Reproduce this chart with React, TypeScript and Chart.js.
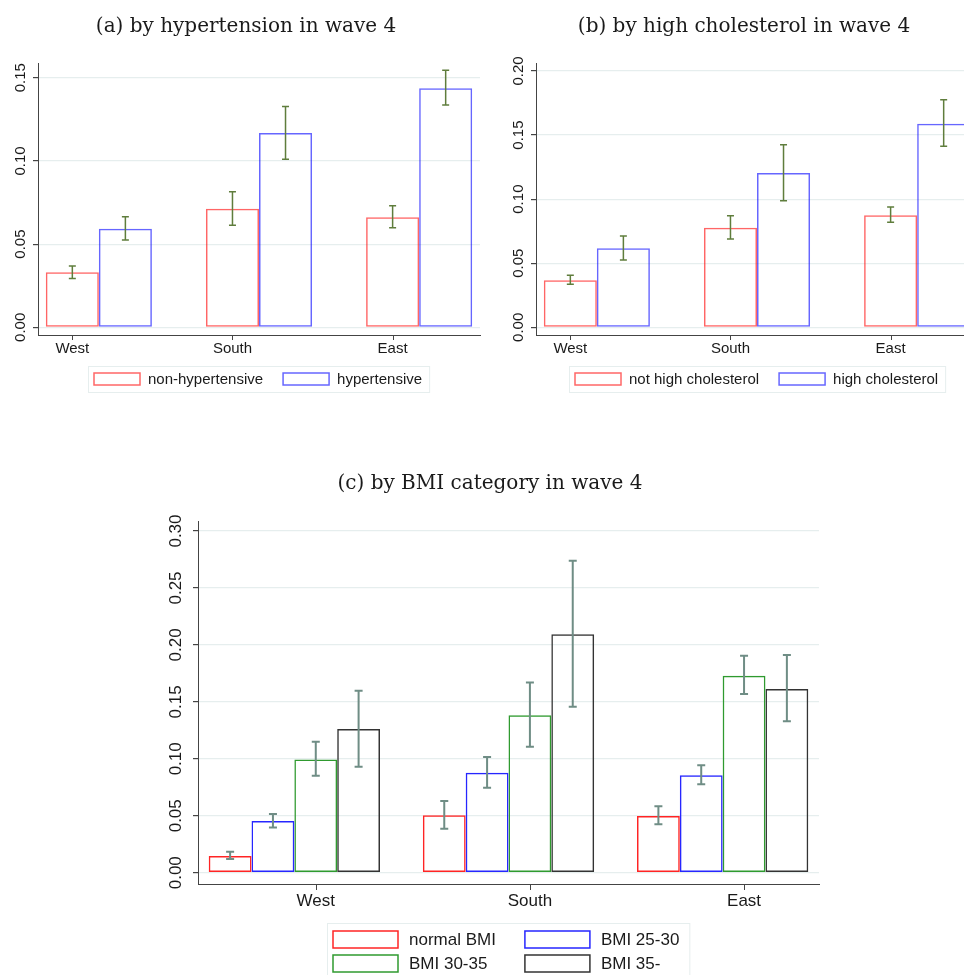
import React, { useEffect, useRef } from "react";
import { Chart, registerables } from "chart.js";

Chart.register(...registerables);

// ---------- data ----------
const REGIONS = ["West", "South", "East"];

// (a) by hypertension
const A_TITLE = "(a) by hypertension in wave 4";
const A_LABELS = ["non-hypertensive", "hypertensive"];
const A_NON = [0.0331, 0.0713, 0.0661];
const A_NON_LO = [0.0293, 0.0613, 0.0598];
const A_NON_HI = [0.0369, 0.0815, 0.0731];
const A_HYP = [0.0592, 0.1167, 0.1436];
const A_HYP_LO = [0.0524, 0.101, 0.1336];
const A_HYP_HI = [0.0664, 0.1327, 0.1545];
const A_TICKS = [0, 0.05, 0.1, 0.15];

// (b) by high cholesterol
const B_TITLE = "(b) by high cholesterol in wave 4";
const B_LABELS = ["not high cholesterol", "high cholesterol"];
const B_NOT = [0.0367, 0.0777, 0.0874];
const B_NOT_LO = [0.0336, 0.0689, 0.0819];
const B_NOT_HI = [0.0406, 0.0871, 0.0939];
const B_HIGH = [0.0616, 0.1204, 0.1589];
const B_HIGH_LO = [0.0525, 0.0988, 0.1412];
const B_HIGH_HI = [0.0712, 0.1425, 0.1776];
const B_TICKS = [0, 0.05, 0.1, 0.15, 0.2];

// (c) by BMI category
const C_TITLE = "(c) by BMI category in wave 4";
const C_LABELS = ["normal BMI", "BMI 25-30", "BMI 30-35", "BMI 35-"];
const C_NORMAL = [0.0146, 0.0504, 0.0498];
const C_NORMAL_LO = [0.012, 0.0386, 0.0425];
const C_NORMAL_HI = [0.0184, 0.063, 0.0583];
const C_B2530 = [0.0454, 0.0878, 0.0855];
const C_B2530_LO = [0.0398, 0.0747, 0.0776];
const C_B2530_HI = [0.0515, 0.1016, 0.0943];
const C_B3035 = [0.0995, 0.1382, 0.173];
const C_B3035_LO = [0.0852, 0.1107, 0.1569];
const C_B3035_HI = [0.115, 0.1669, 0.1906];
const C_B35 = [0.1262, 0.2093, 0.1613];
const C_B35_LO = [0.0931, 0.1458, 0.1329];
const C_B35_HI = [0.1598, 0.274, 0.1911];
const C_TICKS = [0, 0.05, 0.1, 0.15, 0.2, 0.25, 0.3];

// ---------- styles ----------
const SANS = '"Liberation Sans", Arial, Helvetica, sans-serif';
const SERIF = '"DejaVu Serif", serif';
const PAIR_COLORS = ["rgba(255,0,0,0.6)", "rgba(0,0,255,0.6)"];
const BMI_COLORS = ["#ff2424", "#2626ff", "#2f9a2f", "#333333"];
const AXIS = "#444444";
const GRID = "#e6eeee";
const TEXT = "#1a1a1a";

type Series = { label: string; values: number[]; lo: number[]; hi: number[]; color: string };

type Spec = {
  title: string;
  titlePadTop: number;
  titlePadBottom: number;
  series: Series[];
  ticks: number[];
  yMin: number;
  yMax: number;
  xMin: number;
  xMax: number;
  padLeft: number;
  yWidth: number;
  xHeight: number;
  padRight: number;
  catPct: number;
  barBorder: number;
  errColor: string;
  errWidth: number;
  capHalf: number;
  anchor: number;
  fontSize: number;
  yLabelOffset: number;
  xLabelOffset: number;
  tickLen: number;
  legend: {
    cols: number;
    top: number;
    boxW: number;
    boxH: number;
    gap: number;
    colGap: number;
    padL: number;
    padR: number;
    padT: number;
    rowH: number;
  };
};

function makeSeries(labels: string[], vals: number[][], lo: number[][], hi: number[][], colors: string[]): Series[] {
  return labels.map((label, i) => ({ label, values: vals[i], lo: lo[i], hi: hi[i], color: colors[i] }));
}

function buildConfig(spec: Spec): any {
  const plugin = {
    id: "statalike",
    afterDatasetsDraw(chart: any) {
      const ctx = chart.ctx;
      const ys = chart.scales.y;
      ctx.save();
      ctx.strokeStyle = spec.errColor;
      ctx.lineWidth = spec.errWidth;
      spec.series.forEach((s, di) => {
        const meta = chart.getDatasetMeta(di);
        meta.data.forEach((bar: any, j: number) => {
          const x = bar.x;
          const y1 = ys.getPixelForValue(s.lo[j]);
          const y2 = ys.getPixelForValue(s.hi[j]);
          ctx.beginPath();
          ctx.moveTo(x, y1);
          ctx.lineTo(x, y2);
          ctx.moveTo(x - spec.capHalf, y1);
          ctx.lineTo(x + spec.capHalf, y1);
          ctx.moveTo(x - spec.capHalf, y2);
          ctx.lineTo(x + spec.capHalf, y2);
          ctx.stroke();
        });
      });
      ctx.restore();
    },
    afterDraw(chart: any) {
      const ctx = chart.ctx;
      const ca = chart.chartArea;
      const ys = chart.scales.y;
      ctx.save();
      ctx.fillStyle = TEXT;
      ctx.font = `${spec.fontSize}px ${SANS}`;
      // rotated y tick labels
      ys.ticks.forEach((t: any) => {
        const py = ys.getPixelForValue(t.value);
        ctx.save();
        ctx.translate(ys.right - spec.yLabelOffset, py);
        ctx.rotate(-Math.PI / 2);
        ctx.textAlign = "center";
        ctx.textBaseline = "middle";
        ctx.fillText(String(t.label), 0, 0);
        ctx.restore();
      });
      // category ticks and labels at the anchor bar centre
      const meta = chart.getDatasetMeta(spec.anchor);
      ctx.strokeStyle = AXIS;
      ctx.lineWidth = 1;
      ctx.textAlign = "center";
      ctx.textBaseline = "middle";
      REGIONS.forEach((r, i) => {
        const bar = meta.data[i];
        if (!bar) return;
        const x = Math.round(bar.x) + 0.5;
        ctx.beginPath();
        ctx.moveTo(x, ca.bottom);
        ctx.lineTo(x, ca.bottom + spec.tickLen);
        ctx.stroke();
        ctx.fillText(r, bar.x, ca.bottom + spec.xLabelOffset);
      });
      // legend
      const L = spec.legend;
      const items = spec.series;
      const rows = Math.ceil(items.length / L.cols);
      const colW: number[] = [];
      for (let c = 0; c < L.cols; c++) {
        let m = 0;
        for (let r = 0; r < rows; r++) {
          const it = items[r * L.cols + c];
          if (it) m = Math.max(m, ctx.measureText(it.label).width);
        }
        colW.push(L.boxW + L.gap + m);
      }
      const width = L.padL + L.padR + colW.reduce((a, b) => a + b, 0) + L.colGap * (L.cols - 1);
      const height = 2 * L.padT + (rows - 1) * L.rowH + L.boxH;
      const left = Math.round((ca.left + ca.right) / 2 - width / 2);
      const top = Math.round(ca.bottom + L.top);
      ctx.strokeStyle = GRID;
      ctx.lineWidth = 1;
      ctx.strokeRect(left + 0.5, top + 0.5, width, height);
      items.forEach((it, k) => {
        const r = Math.floor(k / L.cols);
        const c = k % L.cols;
        let x = left + L.padL;
        for (let j = 0; j < c; j++) x += colW[j] + L.colGap;
        const by = top + L.padT + r * L.rowH;
        ctx.strokeStyle = it.color;
        ctx.lineWidth = spec.barBorder;
        ctx.strokeRect(x, by, L.boxW, L.boxH);
        ctx.fillStyle = TEXT;
        ctx.textAlign = "left";
        ctx.textBaseline = "middle";
        ctx.fillText(it.label, x + L.boxW + L.gap, by + L.boxH / 2 + 0.5);
      });
      ctx.restore();
    },
  };

  return {
    type: "bar",
    data: {
      datasets: spec.series.map((s) => ({
        label: s.label,
        data: REGIONS.map((_, i) => ({ x: i + 1, y: s.values[i] })),
        backgroundColor: "rgba(0,0,0,0)",
        borderColor: s.color,
        borderWidth: spec.barBorder,
        borderSkipped: false,
        categoryPercentage: spec.catPct,
        barPercentage: 1,
      })),
    },
    options: {
      responsive: false,
      animation: false,
      layout: { padding: { left: spec.padLeft, right: spec.padRight, top: 0, bottom: 0 } },
      plugins: {
        legend: { display: false },
        tooltip: { enabled: false },
        title: {
          display: true,
          text: spec.title,
          color: TEXT,
          font: { family: SERIF, size: 20, weight: "normal", lineHeight: 1.2 },
          padding: { top: spec.titlePadTop, bottom: spec.titlePadBottom },
        },
      },
      scales: {
        x: {
          type: "linear",
          offset: false,
          min: spec.xMin,
          max: spec.xMax,
          afterBuildTicks: (s: any) => {
            s.ticks = REGIONS.map((_, i) => ({ value: i + 1 }));
          },
          afterFit: (s: any) => {
            s.height = spec.xHeight;
          },
          ticks: { display: false },
          grid: { display: false, offset: false },
          border: { display: true, color: AXIS, width: 1 },
        },
        y: {
          type: "linear",
          min: spec.yMin,
          max: spec.yMax,
          afterBuildTicks: (s: any) => {
            s.ticks = spec.ticks.map((v) => ({ value: v }));
          },
          afterFit: (s: any) => {
            s.width = spec.yWidth;
          },
          ticks: { display: false, callback: (v: any) => Number(v).toFixed(2) },
          grid: { color: GRID, lineWidth: 1.2, tickColor: AXIS, tickLength: 5, drawTicks: true },
          border: { display: true, color: AXIS, width: 1 },
        },
      },
    },
    plugins: [plugin],
  };
}

const PAIR_LEGEND = { cols: 2, top: 31, boxW: 46, boxH: 12, gap: 8, colGap: 20, padL: 6, padR: 7, padT: 7, rowH: 24 };

const SPEC_A: Spec = {
  title: A_TITLE,
  titlePadTop: 15,
  titlePadBottom: 24,
  series: makeSeries(A_LABELS, [A_NON, A_HYP], [A_NON_LO, A_HYP_LO], [A_NON_HI, A_HYP_HI], PAIR_COLORS),
  ticks: A_TICKS,
  yMin: -0.0046,
  yMax: 0.1588,
  xMin: 0.62,
  xMax: 3.38,
  padLeft: 12,
  yWidth: 26,
  xHeight: 75,
  padRight: 12,
  catPct: 0.6625,
  barBorder: 1.5,
  errColor: "#5f7d3c",
  errWidth: 1.5,
  capHalf: 3.5,
  anchor: 0,
  fontSize: 15,
  yLabelOffset: 17,
  xLabelOffset: 14,
  tickLen: 5,
  legend: PAIR_LEGEND,
};

const SPEC_B: Spec = {
  ...SPEC_A,
  title: B_TITLE,
  series: makeSeries(B_LABELS, [B_NOT, B_HIGH], [B_NOT_LO, B_HIGH_LO], [B_NOT_HI, B_HIGH_HI], PAIR_COLORS),
  ticks: B_TICKS,
  yMin: -0.006,
  yMax: 0.2062,
};

const SPEC_C: Spec = {
  title: C_TITLE,
  titlePadTop: 32,
  titlePadBottom: 25,
  series: makeSeries(
    C_LABELS,
    [C_NORMAL, C_B2530, C_B3035, C_B35],
    [C_NORMAL_LO, C_B2530_LO, C_B3035_LO, C_B35_LO],
    [C_NORMAL_HI, C_B2530_HI, C_B3035_HI, C_B35_HI],
    BMI_COLORS
  ),
  ticks: C_TICKS,
  yMin: -0.0099,
  yMax: 0.3088,
  xMin: 0.55,
  xMax: 3.45,
  padLeft: 21,
  yWidth: 37,
  xHeight: 91,
  padRight: 21,
  catPct: 0.8,
  barBorder: 1.5,
  errColor: "#6f8d85",
  errWidth: 2,
  capHalf: 4,
  anchor: 2,
  fontSize: 17,
  yLabelOffset: 22,
  xLabelOffset: 17.5,
  tickLen: 6,
  legend: { cols: 2, top: 39, boxW: 65, boxH: 17, gap: 11, colGap: 29, padL: 6, padR: 10, padT: 8, rowH: 24 },
};

function ChartCanvas(props: { spec: Spec; left: number; top: number; width: number; height: number }) {
  const ref = useRef<HTMLCanvasElement | null>(null);
  useEffect(() => {
    if (!ref.current) return;
    const chart = new Chart(ref.current, buildConfig(props.spec));
    return () => chart.destroy();
  }, [props.spec]);
  return (
    <canvas
      ref={ref}
      width={props.width}
      height={props.height}
      style={{ position: "absolute", left: props.left, top: props.top, width: props.width, height: props.height }}
    />
  );
}

export default function App() {
  Chart.defaults.font.family = SANS;
  return (
    <div
      style={{
        position: "fixed",
        left: 0,
        top: 0,
        width: 964,
        height: 975,
        overflow: "hidden",
        background: "#ffffff",
      }}
    >
      <ChartCanvas spec={SPEC_A} left={0} top={0} width={492} height={410} />
      <ChartCanvas spec={SPEC_B} left={498} top={0} width={492} height={410} />
      <ChartCanvas spec={SPEC_C} left={140} top={440} width={700} height={535} />
    </div>
  );
}
